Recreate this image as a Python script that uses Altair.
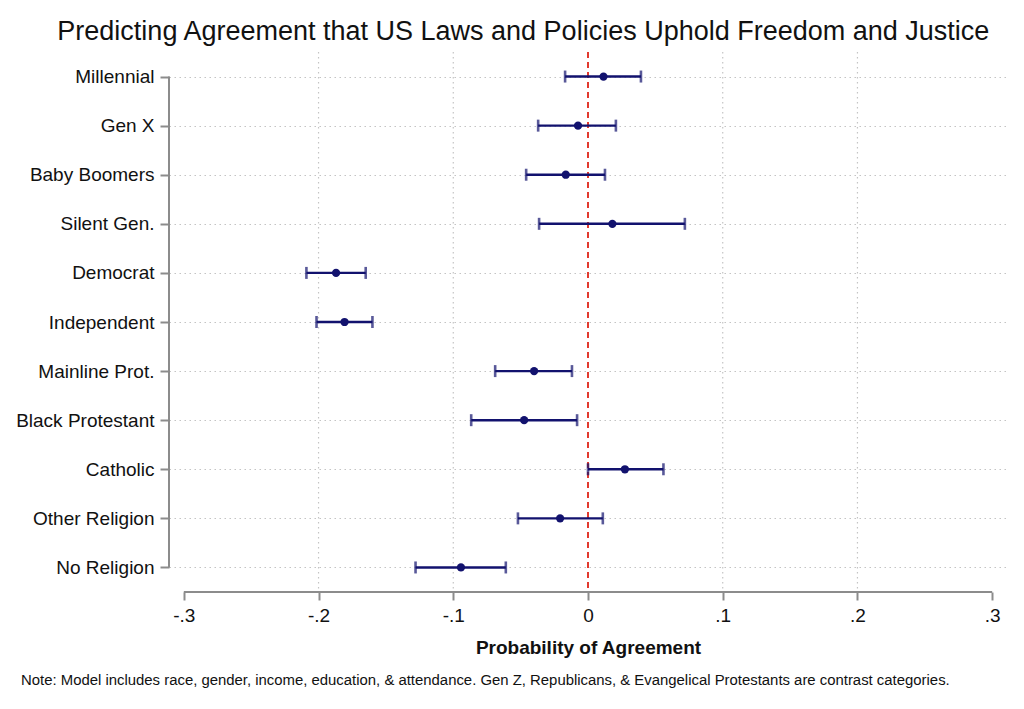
import altair as alt
import pandas as pd

cats = ["Millennial", "Gen X", "Baby Boomers", "Silent Gen.", "Democrat",
        "Independent", "Mainline Prot.", "Black Protestant", "Catholic",
        "Other Religion", "No Religion"]
est = [0.0115, -0.0074, -0.0165, 0.0181, -0.187, -0.1807, -0.040, -0.0474,
       0.0274, -0.0207, -0.0943]
lo = [-0.0170, -0.037, -0.0459, -0.0363, -0.209, -0.2015, -0.0689, -0.0867,
      0.0, -0.052, -0.128]
hi = [0.0393, 0.0207, 0.0126, 0.0719, -0.165, -0.160, -0.0119, -0.0081,
      0.056, 0.011, -0.061]
tick_vals = [-0.3, -0.2, -0.1, 0.0, 0.1, 0.2, 0.3]
grid_vals = [-0.2, -0.1, 0.1, 0.2]

title_text = "Predicting Agreement that US Laws and Policies Uphold Freedom and Justice"
note_text = ("Note: Model includes race, gender, income, education, & attendance. "
             "Gen Z, Republicans, & Evangelical Protestants are contrast categories.")

df = pd.DataFrame({"cat": cats, "est": est, "lo": lo, "hi": hi,
                   "idx": list(range(len(cats)))})
grid_df = pd.DataFrame({"g": grid_vals})
xline_df = pd.DataFrame({"a": [tick_vals[0]], "b": [tick_vals[-1]]})

FONT = "Liberation Sans"
NAVY = "#12126e"
GRAY = "#8c8c8c"
W, H = 838, 540

xscale = alt.Scale(domain=[-0.311, 0.311], nice=False, zero=False)
yscale = alt.Scale(type="point", padding=0.5)

label_expr = ("datum.value == 0 ? '0' : (datum.value < 0 ? '-' : '') + '.' + "
              "format(round(abs(datum.value) * 10), 'd')")

x_axis = alt.Axis(values=tick_vals, labelExpr=label_expr, domain=False,
                  grid=False, ticks=True, tickSize=8, tickWidth=2,
                  tickColor=GRAY, labelFontSize=19, labelFont=FONT,
                  labelColor="#111111", labelPadding=6,
                  title="Probability of Agreement", titleFont=FONT,
                  titleFontSize=19, titleFontWeight="bold",
                  titleColor="#111111", titlePadding=13)
y_axis = alt.Axis(title=None, domain=False, grid=True, gridColor="#c4c4c4",
                  gridDash=[1.5, 3.5], gridWidth=1.2, ticks=True,
                  tickSize=9, tickWidth=2, tickColor=GRAY,
                  labelFontSize=19, labelFont=FONT, labelColor="#111111",
                  labelPadding=6)


def X(field):
    return alt.X(field, scale=xscale, axis=x_axis)


def Y():
    return alt.Y("cat:N", sort=cats, scale=yscale, axis=y_axis)


base = alt.Chart(df)

grid = alt.Chart(grid_df).mark_rule(color="#c4c4c4", strokeDash=[1.5, 3.5], strokeWidth=1.2).encode(
    x=X("g:Q")
)

zero = base.mark_rule(color="#e23a2e", strokeDash=[6, 4], strokeWidth=2).encode(
    x=alt.X(datum=0, scale=xscale, axis=x_axis)
)

yaxis_line = base.mark_line(color=GRAY, strokeWidth=2).encode(
    x=alt.value(0),
    y=Y(),
    order="idx:Q",
)

xaxis_line = alt.Chart(xline_df).mark_rule(color=GRAY, strokeWidth=2).encode(
    x=X("a:Q"),
    x2="b:Q",
    y=alt.value(H),
)

bars = base.mark_rule(color=NAVY, strokeWidth=2.4).encode(
    x=X("lo:Q"), x2="hi:Q", y=Y()
)
cap_lo = base.mark_tick(color=NAVY, thickness=2.6, size=12).encode(x=X("lo:Q"), y=Y())
cap_hi = base.mark_tick(color=NAVY, thickness=2.6, size=12).encode(x=X("hi:Q"), y=Y())
pts = base.mark_circle(color=NAVY, opacity=1, size=68).encode(x=X("est:Q"), y=Y())

note = alt.Chart(pd.DataFrame({"t": [note_text]})).mark_text(
    align="left", baseline="middle", font=FONT, fontSize=14.9, color="#111111"
).encode(
    text="t:N",
    x=alt.value(-148),
    y=alt.value(H + 89),
)

chart = alt.layer(grid, zero, yaxis_line, xaxis_line, bars, cap_lo, cap_hi, pts, note).properties(
    width=W, height=H,
    background="white",
    title=alt.TitleParams(title_text, font=FONT, fontSize=27, fontWeight="normal",
                          color="#111111", anchor="middle", frame="bounds",
                          offset=5, dx=12),
    padding={"left": 7, "top": 10, "right": 5, "bottom": 5},
).configure_view(stroke=None)

chart.save("out.html", embed_options={"renderer": "svg", "actions": False})
